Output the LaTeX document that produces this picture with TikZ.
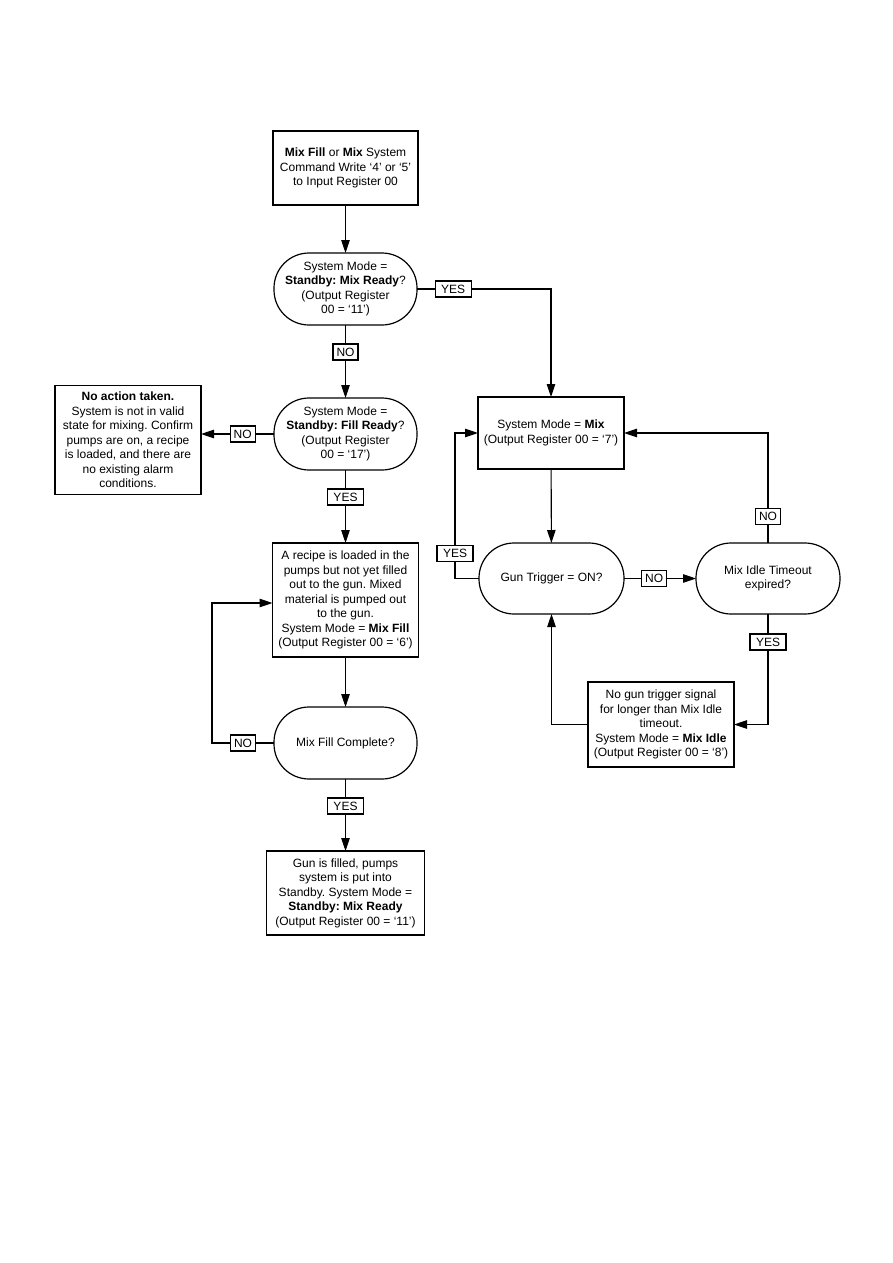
\documentclass[tikz,border=0pt]{standalone}
\usepackage{fontspec}
\setmainfont{Liberation Sans}
\usetikzlibrary{positioning,arrows.meta,calc}
\frenchspacing

\begin{document}
\begin{tikzpicture}[x=1pt,y=1pt,font=\fontsize{12}{14.5}\selectfont,
 box/.style={draw,line width=1.6pt,align=center,inner sep=2pt,outer sep=0pt,minimum width=146pt},
 dec/.style={draw,line width=1.2pt,rounded corners=35pt,minimum width=143pt,minimum height=72pt,align=center,inner sep=2pt,outer sep=0pt},
 lbl/.style={draw,fill=white,line width=1.2pt,minimum height=16pt,minimum width=25pt,inner sep=1pt},
 ylbl/.style={lbl,minimum width=36pt},
 a/.style={-{Triangle[length=13pt,width=8.5pt]},line width=1.1pt}]
\useasboundingbox (0,0) rectangle (893,-1263);
% left column
\node[box,minimum width=145pt,minimum height=74pt] (cmd) at (345.5,-168) {\textbf{Mix Fill} or \textbf{Mix} System\\Command Write ‘4’ or ‘5’\\to Input Register 00};
\node[dec,below=48pt of cmd] (d1) {System Mode =\\\textbf{Standby: Mix Ready}?\\(Output Register\\00 = ‘11’)};
\node[dec,below=73pt of d1] (d2) {System Mode =\\\textbf{Standby: Fill Ready}?\\(Output Register\\00 = ‘17’)};
\node[box,minimum height=109pt] (noact) at (128,-440) {\textbf{No action taken.}\\System is not in valid\\state for mixing. Confirm\\pumps are on, a recipe\\is loaded, and there are\\no existing alarm\\conditions.};
\node[box,line width=1.4pt,minimum height=114pt,below=73pt of d2] (fill) {A recipe is loaded in the\\pumps but not yet filled\\out to the gun. Mixed\\material is pumped out\\to the gun.\\System Mode = \textbf{Mix Fill}\\(Output Register 00 = ‘6’)};
\node[dec,below=50pt of fill] (d3) {Mix Fill Complete?};
\node[box,minimum width=158pt,minimum height=84pt,below=72pt of d3] (ready) {Gun is filled, pumps\\system is put into\\Standby. System Mode =\\\textbf{Standby: Mix Ready}\\(Output Register 00 = ‘11’)};
% right column
\node[box,minimum height=72pt] (mix) at (551,-433) {System Mode = \textbf{Mix}\\(Output Register 00 = ‘7’)};
\node[dec,minimum width=145pt,minimum height=71pt] (gun) at (551.5,-578.5) {Gun Trigger = ON?};
\node[dec,minimum width=144pt,minimum height=71pt,right=72pt of gun] (idle) {Mix Idle Timeout\\expired?};
\node[box,line width=1.2pt,minimum height=85pt] (idlebox) at (661,-724.5) {No gun trigger signal\\for longer than Mix Idle\\timeout.\\System Mode = \textbf{Mix Idle}\\(Output Register 00 = ‘8’)};
% connectors
\draw[a] (cmd) -- (d1);
\draw[a] (d1.east) -- node[ylbl,pos=.27] {YES} (d1.east -| mix.north) -- (mix.north);
\draw[a] (d1) -- node[lbl,pos=.37] {NO} (d2);
\draw[a] (d2.west) -- node[lbl,pos=.43] {NO} (d2.west -| noact.east);
\draw[a] (d2) -- node[ylbl,pos=.37] {YES} (fill);
\draw[a] (fill) -- (d3);
\draw[a] (d3.west) -- node[lbl] {NO} ++(-62,0) |- ($(fill.west)+(0,-3)$);
\draw[a] (d3) -- node[ylbl,pos=.375] {YES} (ready);
\draw[a] (mix) -- (gun);
\draw[a] (gun.west) -| node[ylbl,pos=.587] {YES} ($(mix.west)+(-23,0)$) -- (mix.west);
\draw[a] (gun) -- node[lbl,pos=.42] {NO} (idle);
\draw[a] (idle.north) |- node[lbl,pos=.12] {NO} (mix.east);
\draw[a] (idle.south) |- node[ylbl,pos=.127] {YES} (idlebox.east);
\draw[a] (idlebox.west) -| (gun.south);
\end{tikzpicture}
\end{document}
